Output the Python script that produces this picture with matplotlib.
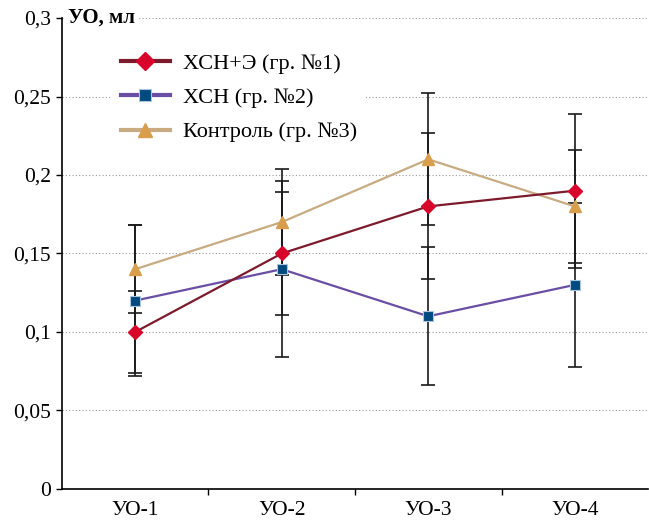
import matplotlib
matplotlib.use("Agg")
import matplotlib.pyplot as plt

# Данные
categories = ["УО-1", "УО-2", "УО-3", "УО-4"]
labels = ["ХСН+Э (гр. №1)", "ХСН (гр. №2)", "Контроль (гр. №3)"]
group1 = [0.10, 0.15, 0.18, 0.19]
group2 = [0.12, 0.14, 0.11, 0.13]
group3 = [0.14, 0.17, 0.21, 0.18]
err1 = [0.026, 0.039, 0.0465, 0.049]
err2 = [0.048, 0.056, 0.044, 0.052]
err3 = [0.028, 0.034, 0.042, 0.036]
y_ticks = [0, 0.05, 0.1, 0.15, 0.2, 0.25, 0.3]
y_tick_labels = ["0", "0,05", "0,1", "0,15", "0,2", "0,25", "0,3"]

plt.rcParams["font.family"] = ["Liberation Serif", "DejaVu Serif"]

fig = plt.figure(figsize=(6.49, 5.25), dpi=100)
ax = fig.add_axes([0.0955, 0.0686, 0.9030, 0.8971])

x = list(range(len(categories)))

# Планки погрешностей
for vals, errs in [(group1, err1), (group2, err2), (group3, err3)]:
    ax.errorbar(x, vals, yerr=errs, fmt="none", ecolor="#1a1a1a",
                elinewidth=1.2, capsize=5, capthick=1.2, zorder=2)

# Линии
ax.plot(x, group1, color="#7d1a2c", linewidth=1.6, marker="D", markersize=7,
        markerfacecolor="#d90429", markeredgecolor="#d90429", label=labels[0], zorder=4)
ax.plot(x, group2, color="#6a4ea6", linewidth=1.6, marker="s", markersize=7,
        markerfacecolor="#004a80", markeredgecolor="#a9c4dc", markeredgewidth=0.8,
        label=labels[1], zorder=3)
ax.plot(x, group3, color="#c9ab82", linewidth=1.6, marker="^", markersize=8,
        markerfacecolor="#d99e4c", markeredgecolor="#d99e4c", label=labels[2], zorder=3)

# Оси
ax.set_xlim(-0.5, 3.5)
ax.set_ylim(0, 0.3)
ax.set_yticks(y_ticks)
ax.set_yticklabels(y_tick_labels, fontsize=15.5)
ax.set_xticks(x)
ax.set_xticklabels(categories, fontsize=15.5)
ax.tick_params(axis="x", which="major", length=0, pad=9)
ax.set_xticks([0.5, 1.5, 2.5], minor=True)
ax.tick_params(axis="x", which="minor", length=4, width=1, direction="out")
ax.tick_params(axis="y", length=4, width=1, direction="out", pad=4)

for s in ["top", "right"]:
    ax.spines[s].set_visible(False)
ax.spines["left"].set_linewidth(1.2)
ax.spines["bottom"].set_linewidth(1.2)

for yv in y_ticks[1:]:
    ax.axhline(yv, color="#9a9a9a", linestyle=(0, (1, 2)), linewidth=0.8, zorder=0)

ax.text(0.01, 0.3, "УО, мл", transform=ax.get_yaxis_transform(),
        fontsize=15, fontweight="bold", va="center", ha="left",
        bbox=dict(facecolor="white", edgecolor="none", pad=3), zorder=5)

leg = ax.legend(loc="upper left", bbox_to_anchor=(0.085, 0.944), frameon=True,
                fontsize=16, handlelength=2.2, handletextpad=0.6,
                labelspacing=0.62, borderaxespad=0, markerscale=1.25)
leg.get_frame().set_edgecolor("none")
leg.get_frame().set_facecolor("white")
leg.get_frame().set_alpha(1)
leg.set_zorder(6)
for h in leg.legend_handles:
    h.set_linewidth(3)

fig.savefig("out.png", dpi=100)
plt.close(fig)
